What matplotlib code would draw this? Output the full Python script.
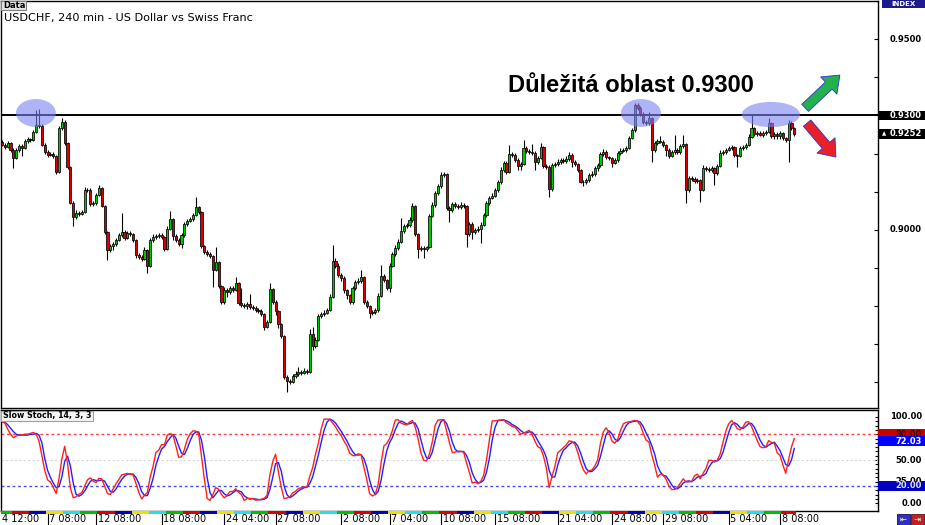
import numpy as np
import pandas as pd
import matplotlib
matplotlib.use("Agg")
import matplotlib.pyplot as plt
import matplotlib.transforms as mtransforms
from matplotlib.patches import Ellipse, Rectangle

# USDCHF 4h bars, prices in pips (9223 -> 0.9223)
closePips = [
    9223, 9217, 9228, 9210, 9189, 9210, 9220, 9215, 9233, 9238,
    9236, 9257, 9275, 9272, 9223, 9204, 9197, 9199, 9194, 9152,
    9267, 9283, 9228, 9165, 9071, 9034, 9045, 9042, 9047, 9105,
    9105, 9068, 9071, 9092, 9110, 9063, 8995, 8948, 8958, 8963,
    8974, 8987, 8995, 8979, 8992, 8990, 8974, 8934, 8929, 8924,
    8948, 8906, 8974, 8982, 8984, 8987, 8982, 8950, 9003, 9029,
    8984, 8974, 8963, 8987, 9016, 9024, 9029, 9039, 9060, 9047,
    8958, 8942, 8937, 8932, 8895, 8916, 8853, 8811, 8843, 8838,
    8848, 8843, 8861, 8809, 8803, 8801, 8806, 8798, 8796, 8790,
    8788, 8780, 8746, 8759, 8845, 8811, 8788, 8754, 8722, 8615,
    8604, 8602, 8617, 8623, 8628, 8625, 8631, 8628, 8728, 8696,
    8712, 8775, 8780, 8783, 8790, 8825, 8919, 8906, 8882, 8874,
    8843, 8830, 8811, 8848, 8864, 8866, 8877, 8811, 8801, 8783,
    8785, 8790, 8827, 8879, 8869, 8848, 8906, 8937, 8953, 8969,
    8997, 9010, 9013, 9026, 9063, 8990, 8950, 8953, 8950, 8955,
    9037, 9066, 9097, 9115, 9144, 9147, 9058, 9052, 9068, 9063,
    9060, 9066, 9063, 8990, 9016, 8995, 9000, 9003, 9013, 9039,
    9071, 9084, 9089, 9105, 9126, 9157, 9176, 9152, 9199, 9197,
    9183, 9168, 9173, 9215, 9207, 9204, 9202, 9178, 9189, 9217,
    9168, 9165, 9107, 9170, 9173, 9178, 9183, 9181, 9186, 9197,
    9178, 9173, 9157, 9126, 9126, 9131, 9144, 9147, 9162, 9170,
    9199, 9204, 9191, 9189, 9176, 9183, 9202, 9207, 9210, 9215,
    9241, 9262, 9328, 9320, 9304, 9283, 9280, 9293, 9210, 9228,
    9233, 9231, 9223, 9210, 9194, 9204, 9210, 9204, 9220, 9225,
    9105, 9136, 9134, 9128, 9131, 9105, 9162, 9160, 9157, 9162,
    9149, 9168, 9202, 9204, 9210, 9215, 9217, 9197, 9194, 9215,
    9217, 9223, 9244, 9267, 9252, 9254, 9249, 9254, 9257, 9280,
    9246, 9252, 9246, 9254, 9241, 9236, 9280, 9267, 9252,
]
firstOpenPips = 9230
upperWickPips = [
    5, 4, 6, 3, 4, 5, 6, 4, 5, 6,
    4, 6, 39, 42, 5, 4, 6, 5, 4, 3,
    6, 10, 4, 3, 2, 4, 6, 5, 4, 8,
    6, 4, 5, 6, 7, 3, 2, 3, 5, 6,
    4, 6, 50, 5, 6, 4, 3, 2, 5, 4,
    6, 3, 5, 6, 4, 5, 6, 3, 7, 21,
    3, 5, 4, 6, 5, 4, 6, 5, 26, 4,
    2, 3, 5, 4, 3, 39, 3, 2, 8, 6,
    5, 6, 16, 3, 40, 6, 5, 25, 5, 4,
    5, 4, 3, 6, 16, 3, 4, 3, 2, 2,
    4, 5, 6, 8, 12, 6, 7, 5, 12, 17,
    6, 5, 4, 6, 5, 6, 42, 8, 6, 5,
    4, 3, 2, 6, 5, 7, 18, 3, 4, 3,
    5, 6, 7, 29, 6, 3, 6, 5, 7, 6,
    34, 6, 5, 7, 8, 3, 2, 5, 6, 4,
    6, 7, 5, 6, 8, 6, 3, 4, 6, 5,
    4, 6, 5, 3, 6, 4, 5, 6, 7, 6,
    5, 6, 7, 6, 5, 8, 6, 4, 24, 5,
    4, 5, 6, 21, 5, 6, 20, 4, 6, 10,
    3, 5, 4, 6, 5, 7, 6, 5, 8, 6,
    4, 5, 3, 4, 6, 5, 6, 7, 6, 5,
    6, 8, 5, 4, 3, 6, 5, 7, 6, 5,
    6, 5, 5, 6, 4, 5, 6, 15, 3, 6,
    5, 14, 4, 3, 4, 6, 39, 5, 6, 24,
    3, 6, 5, 4, 6, 3, 7, 5, 6, 5,
    4, 6, 7, 5, 6, 5, 6, 4, 3, 6,
    5, 6, 7, 34, 4, 6, 5, 6, 5, 13,
    4, 6, 5, 6, 4, 3, 8, 5, 4,
]
lowerWickPips = [
    4, 5, 3, 6, 27, 4, 5, 20, 4, 5,
    6, 4, 3, 5, 4, 6, 5, 4, 6, 5,
    3, 4, 5, 4, 3, 25, 6, 5, 4, 3,
    5, 6, 4, 5, 3, 4, 5, 27, 6, 10,
    5, 4, 6, 5, 4, 6, 5, 8, 6, 5,
    4, 19, 3, 5, 6, 4, 5, 6, 3, 4,
    10, 5, 6, 10, 6, 5, 4, 5, 3, 6,
    5, 4, 6, 5, 44, 4, 5, 6, 5, 14,
    6, 5, 4, 6, 5, 7, 9, 5, 6, 4,
    5, 6, 8, 4, 3, 5, 10, 10, 6, 5,
    30, 5, 4, 6, 5, 6, 4, 5, 3, 11,
    6, 4, 5, 6, 4, 3, 4, 5, 6, 7,
    8, 10, 6, 4, 5, 6, 4, 5, 6, 14,
    5, 6, 4, 3, 5, 6, 10, 4, 5, 6,
    4, 5, 6, 5, 4, 6, 23, 5, 23, 6,
    3, 4, 5, 6, 4, 5, 6, 31, 5, 6,
    5, 4, 6, 35, 5, 20, 6, 5, 37, 4,
    4, 5, 3, 4, 6, 5, 4, 6, 3, 5,
    6, 10, 10, 4, 5, 6, 5, 21, 6, 4,
    6, 5, 21, 4, 5, 6, 4, 5, 6, 4,
    12, 5, 6, 4, 10, 5, 6, 4, 5, 8,
    4, 5, 6, 5, 10, 4, 5, 6, 4, 5,
    4, 3, 5, 6, 5, 6, 4, 5, 32, 6,
    5, 4, 6, 15, 5, 4, 6, 5, 4, 6,
    34, 5, 6, 4, 5, 32, 4, 6, 5, 4,
    31, 5, 4, 6, 5, 4, 6, 5, 29, 4,
    6, 5, 4, 3, 6, 5, 4, 6, 5, 4,
    5, 8, 8, 8, 6, 5, 58, 4, 5,
]

# first bars of the oscillator depend on history left of the chart
stochWarmupMain = [94, 93, 86, 80, 76, 78, 79, 79, 80, 80, 81, 82, 80, 72, 55, 38, 27]
stochWarmupSignal = [95, 94, 91, 87, 83, 80, 79, 79, 79, 79, 80, 80, 81, 79, 70, 52, 38]

dateTickBars = [0, 16, 33, 56, 78, 96, 119, 136, 154, 173, 195, 214, 232, 255, 273]
dateTickLabels = ["4 12:00", "7 08:00", "12 08:00", "18 08:00", "24 04:00", "27 08:00",
                  "2 08:00", "7 04:00", "10 08:00", "15 08:00", "21 04:00", "24 08:00",
                  "29 08:00", "5 04:00", "8 08:00"]

keyLevel = 0.9300
stochPeriods = (14, 3, 3)
stochLastSignal = 72.03
firstDayBars = 4
barsPerDay = 6
dayColors = ["#00c000", "#e00000", "#0000c8", "#f0e000", "#20e0f0"]

# (center bar, center price, width in bars, height in price)
highlightZones = [(11.9, 0.93066, 14, 0.0073), (224.2, 0.93066, 14, 0.0073), (269.8, 0.93026, 20.4, 0.0066)]

closes = np.array(closePips) / 10000
opens = np.r_[firstOpenPips, closePips[:-1]] / 10000
highs = np.maximum(opens, closes) + np.array(upperWickPips) / 10000
lows = np.minimum(opens, closes) - np.array(lowerWickPips) / 10000
idx = np.arange(len(closes))

kPer, slowing, dPer = stochPeriods
hh = pd.Series(highs).rolling(kPer, min_periods=1).max()
ll = pd.Series(lows).rolling(kPer, min_periods=1).min()
num = (pd.Series(closes) - ll).rolling(slowing, min_periods=1).sum()
den = (hh - ll).rolling(slowing, min_periods=1).sum()
mainLine = 100 * num / den
nw = len(stochWarmupMain)
mainLine.iloc[:nw] = stochWarmupMain
signalLine = mainLine.rolling(dPer, min_periods=1).mean()
signalLine.iloc[:nw] = stochWarmupSignal

W, H = 925, 525
fig = plt.figure(figsize=(W / 100, H / 100), dpi=100)


def pixBox(x0, y0, x1, y1):
    return [x0 / W, 1 - y1 / H, (x1 - x0) / W, (y1 - y0) / H]


ax = fig.add_axes(pixBox(1, 1, 877.5, 407.5))
axS = fig.add_axes(pixBox(1, 409.5, 877.5, 510.5), sharex=ax)
axD = fig.add_axes(pixBox(1, 510.5, 877.5, 513.5), sharex=ax)
ov = fig.add_axes([0, 0, 1, 1], zorder=10)
ov.set_xlim(0, W)
ov.set_ylim(H, 0)
ov.axis("off")

ax.set_xlim(-0.35, 307.2)
ax.set_ylim(0.85344, 0.96002)
axS.set_ylim(-8.5, 108.7)

# candles
bull = closes >= opens
bear = ~bull
ax.vlines(idx, lows, highs, color="black", lw=0.8, zorder=2)
ax.bar(idx[bull], (closes - opens)[bull], bottom=opens[bull], width=0.75,
       color="#00c800", edgecolor="black", lw=0.55, zorder=3)
ax.bar(idx[bear], (opens - closes)[bear], bottom=closes[bear], width=0.75,
       color="#d80000", edgecolor="black", lw=0.55, zorder=3)
ax.axhline(keyLevel, color="black", lw=1.4, zorder=4)

for cx, cy, w, h in highlightZones:
    ax.add_patch(Ellipse((cx, cy), w, h, facecolor="#7b82f3", alpha=0.6, edgecolor="none", zorder=6))

ax.annotate("", xy=(294, 0.9406), xytext=(281.8, 0.9320), annotation_clip=False,
            arrowprops=dict(arrowstyle="simple,head_length=0.55,head_width=0.85,tail_width=0.35",
                            mutation_scale=20, fc="#22b14c", ec="#3030d0", lw=0.6, shrinkA=0, shrinkB=0))
ax.annotate("", xy=(292.6, 0.9191), xytext=(282.5, 0.9280), annotation_clip=False,
            arrowprops=dict(arrowstyle="simple,head_length=0.55,head_width=0.85,tail_width=0.35",
                            mutation_scale=20, fc="#e8202a", ec="#3030d0", lw=0.6, shrinkA=0, shrinkB=0))

# stochastic
axS.axhline(80, color="#ff4040", ls=(0, (2, 2)), lw=1)
axS.axhline(20, color="#4848ff", ls=(0, (2, 2)), lw=1)
axS.axhline(50, color="#d8d8d8", ls=(0, (2, 2)), lw=0.8)
axS.plot(idx, signalLine, color="#2020ff", lw=1)
axS.plot(idx, mainLine, color="#ff2020", lw=1)

for a in (ax, axS):
    a.yaxis.tick_right()
    a.tick_params(axis="y", direction="in", length=3, width=0.8, labelright=False)
    a.tick_params(axis="x", bottom=False, labelbottom=False)
    for s in a.spines.values():
        s.set_linewidth(1)
        s.set_color("black")
ax.set_yticks(np.arange(0.86, 0.9601, 0.01))
axS.set_yticks(np.arange(0, 101, 5))
axS.tick_params(axis="y", length=2.5)

xLab = (922 - 1) / 876.5
xBox = (878 - 1) / 876.5
wBox = (925 - 878) / 876.5


def valueBox(a, value, face, text, textColor, z, marker=False):
    tr = mtransforms.blended_transform_factory(a.transAxes, a.transData)
    lo, hi = a.get_ylim()
    h = 9.5 * (hi - lo) / (a.get_position().height * H)
    a.add_patch(Rectangle((xBox, value - h / 2), wBox, h, transform=tr, facecolor=face,
                          edgecolor="none", clip_on=False, zorder=z))
    a.text(xLab, value, text, transform=tr, ha="right", va="center", fontsize=6,
           fontweight="bold", color=textColor, clip_on=False, zorder=z + 0.1)
    if marker:
        a.text(xBox + 0.004, value, "▲", transform=tr, ha="left", va="center", fontsize=4,
               color="white", clip_on=False, zorder=z + 0.1)


trM = mtransforms.blended_transform_factory(ax.transAxes, ax.transData)
for p in [0.95, 0.90]:
    ax.text(xLab, p, f"{p:.4f}", transform=trM, ha="right", va="center", fontsize=6,
            fontweight="bold", clip_on=False)
valueBox(ax, keyLevel, "black", f"{keyLevel:.4f}", "white", 5)
valueBox(ax, closes[-1], "black", f"{closes[-1]:.4f}", "white", 5, marker=True)

trS = mtransforms.blended_transform_factory(axS.transAxes, axS.transData)
for v in [100, 50, 25, 0]:
    axS.text(xLab, v, f"{v:.2f}", transform=trS, ha="right", va="center", fontsize=6,
             fontweight="bold", clip_on=False, zorder=4)
valueBox(axS, 80, "#c80000", "80.00", "#400000", 5)
valueBox(axS, stochLastSignal, "#0000ff", f"{stochLastSignal:.2f}", "white", 6)
valueBox(axS, 20, "#0000c0", "20.00", "#e0e0ff", 6)

# day colour strip
edges = np.r_[-0.5, np.arange(firstDayBars - 0.5, len(closes) - 0.5, barsPerDay), len(closes) - 0.5]
for k in range(len(edges) - 1):
    axD.axvspan(edges[k], edges[k + 1], color=dayColors[k % len(dayColors)], lw=0)
axD.set_ylim(0, 1)
axD.axis("off")

# date labels
trL = mtransforms.blended_transform_factory(axS.transData, fig.transFigure)
for pos, lab in zip(dateTickBars, dateTickLabels):
    if pos > 0:
        axS.plot([pos, pos], [1 - 513.5 / H, 0], transform=trL, color="black", lw=0.8, clip_on=False)
        axS.text(pos + 0.6, 1 - 519.5 / H, lab, transform=trL, ha="left", va="center", fontsize=7)
    else:
        axS.text(pos, 1 - 519.5 / H, lab, transform=trL, ha="left", va="center", fontsize=7)

# window furniture
ov.text(4, 18.5, "USDCHF, 240 min - US Dollar vs Swiss Franc", fontsize=8.1, ha="left", va="center")
ov.add_patch(Rectangle((1, 1), 25, 8.5, facecolor="#e4e4e4", edgecolor="#808080", lw=0.8))
ov.text(3, 5.5, "Data", fontsize=6, fontweight="bold", va="center")
ov.add_patch(Rectangle((1, 410.5), 92, 10.5, facecolor="#f4f4f4", edgecolor="#a0a0a0", lw=0.8))
ov.text(3, 415.8, "Slow Stoch, 14, 3, 3", fontsize=5.7, fontweight="bold", va="center")
ov.add_patch(Rectangle((882, 0), 43, 7.5, facecolor="#1c1c8c", edgecolor="none"))
ov.text(903.5, 3.9, "INDEX", fontsize=5, fontweight="bold", color="white", ha="center", va="center")
ov.text(631, 92, "Důležitá oblast 0.9300", family=["Liberation Sans", "DejaVu Sans"],
        fontweight="bold", fontsize=17, ha="center", va="baseline")
ov.add_patch(Rectangle((897, 513.5), 12.5, 11, facecolor="#3030c0", edgecolor="#101060", lw=0.6))
ov.text(903.2, 519, "⇤", fontsize=6, color="white", ha="center", va="center")
ov.add_patch(Rectangle((911, 513.5), 13, 11, facecolor="#c02020", edgecolor="#601010", lw=0.6))
ov.text(917.5, 519, "⇥", fontsize=6, color="white", ha="center", va="center")

fig.savefig("out.png", dpi=100)
